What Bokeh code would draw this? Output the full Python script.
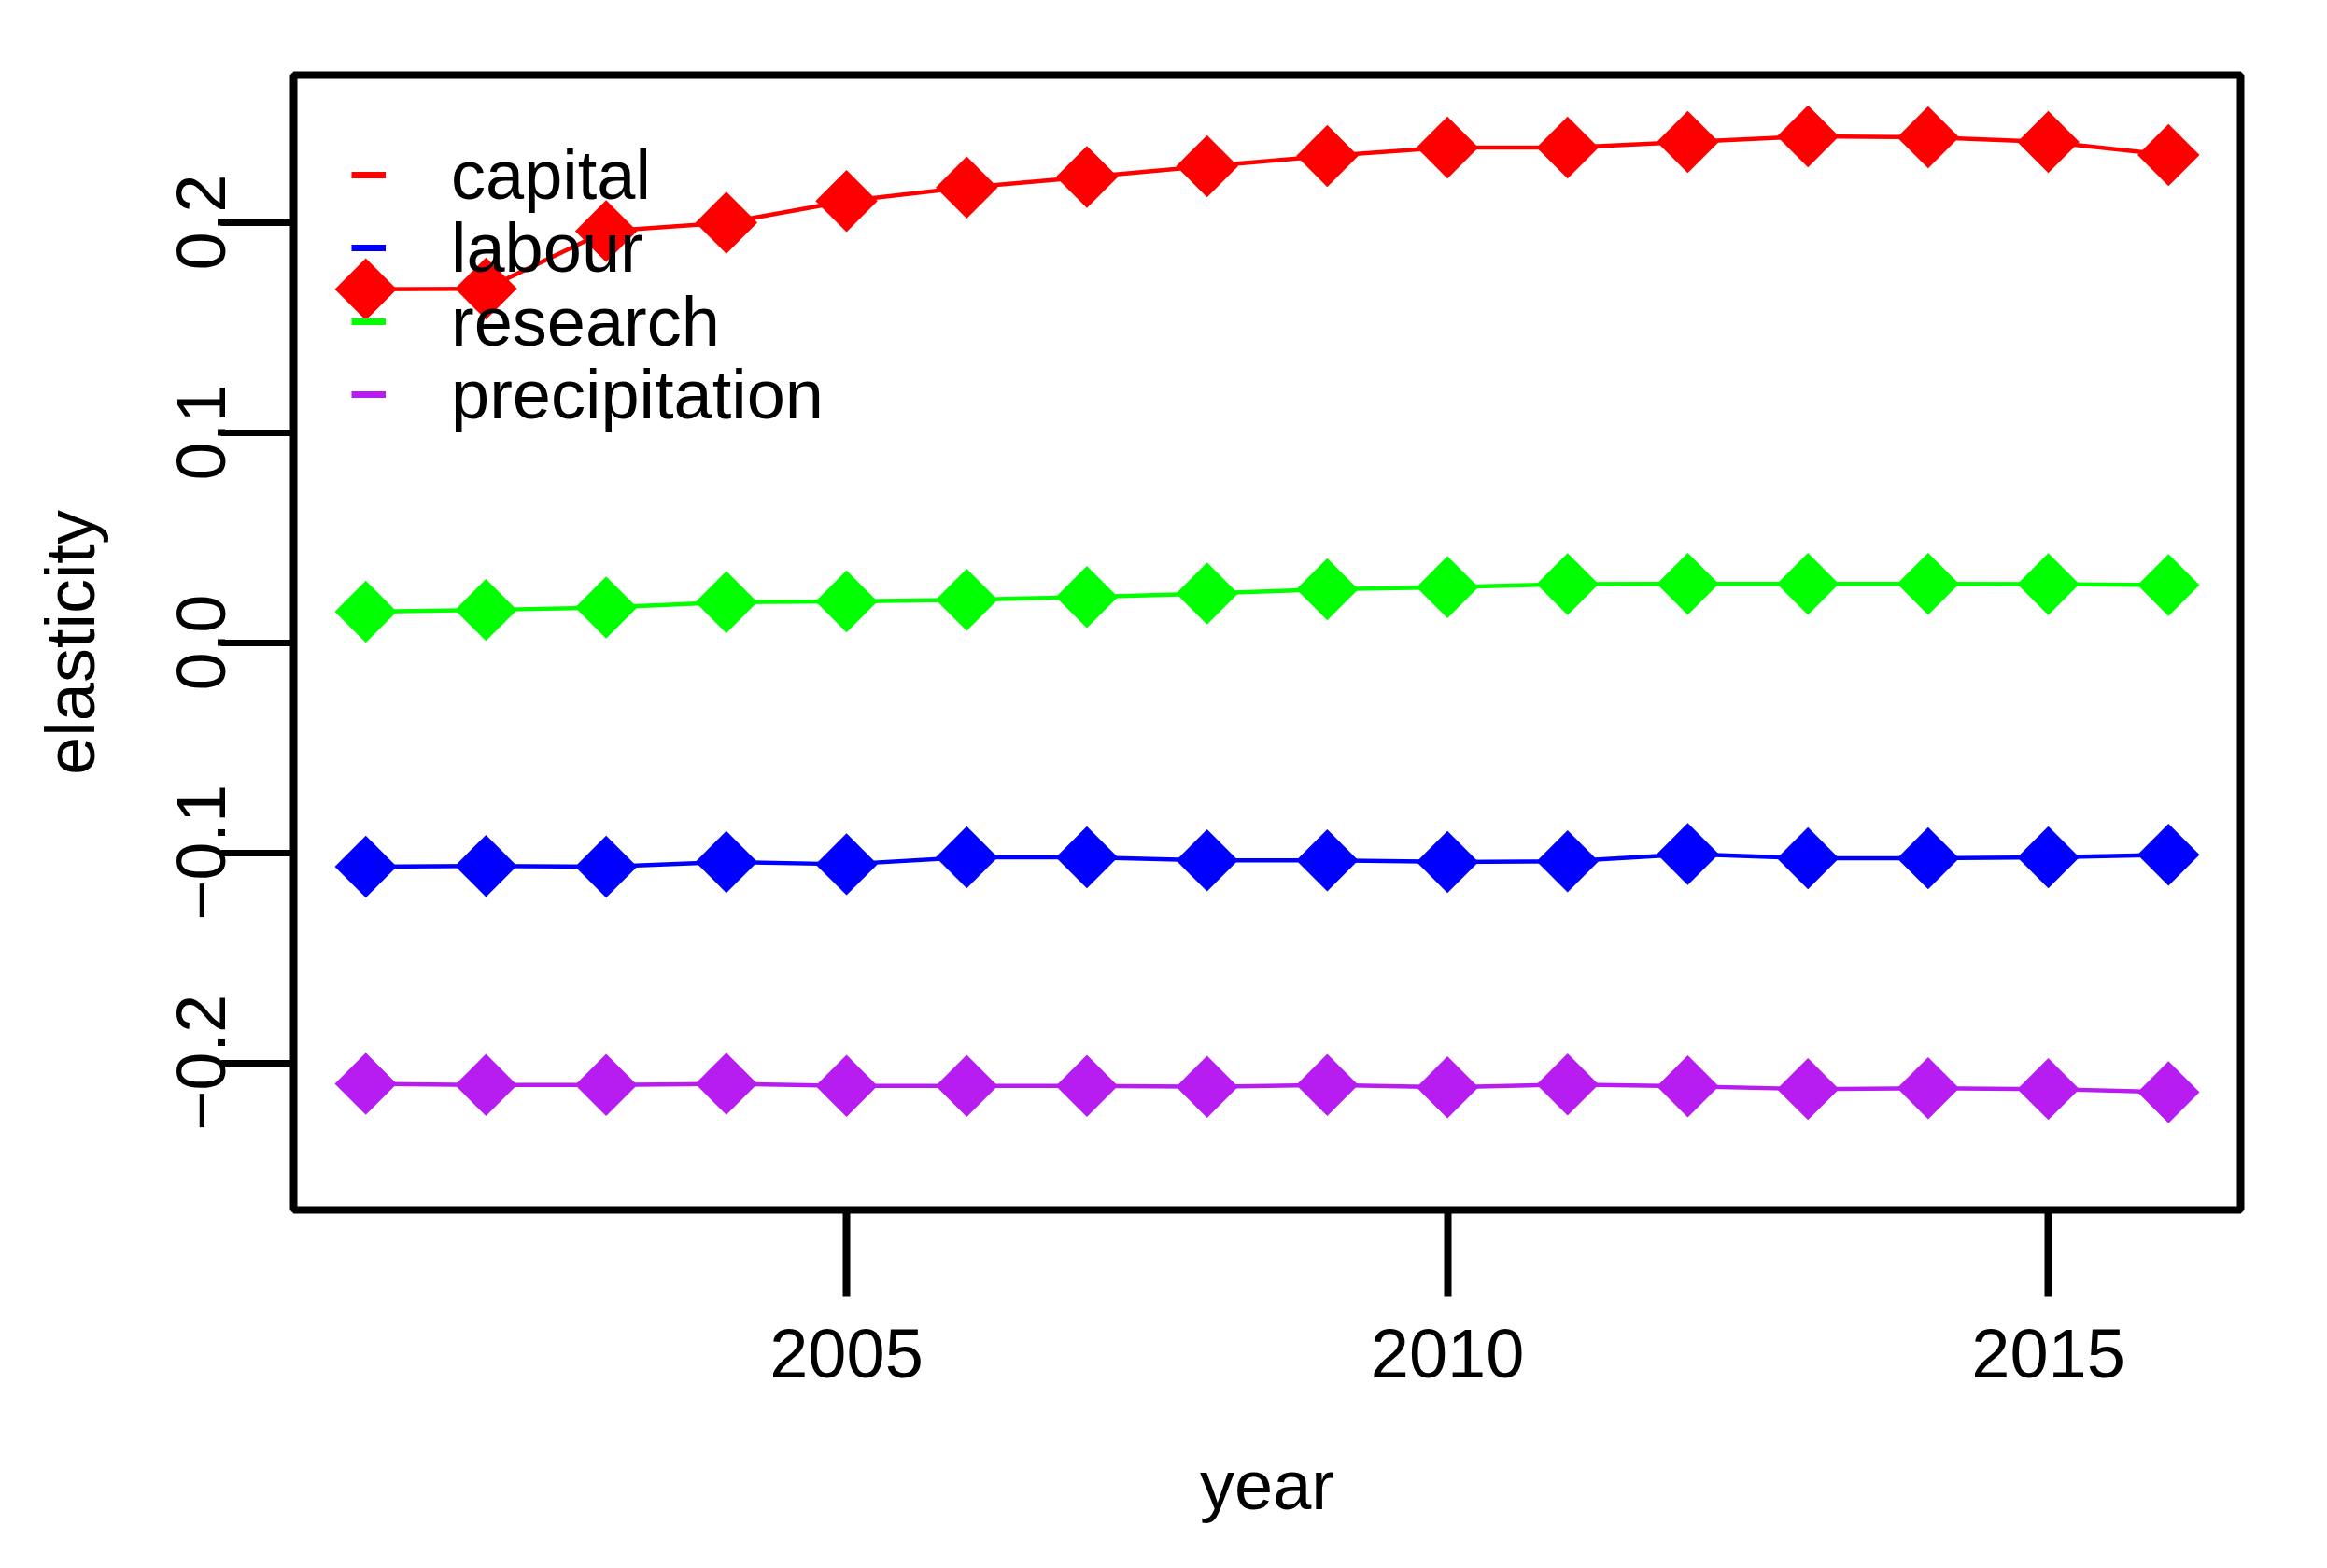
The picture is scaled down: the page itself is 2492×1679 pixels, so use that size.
from bokeh.plotting import figure
from bokeh.models import Range1d, FixedTicker, Legend, LegendItem
from bokeh.embed import file_html
from bokeh.resources import INLINE

# ---- data ----
years = list(range(2001, 2017))
capital = [0.1681, 0.1684, 0.1958, 0.1998, 0.2101, 0.2166, 0.2216, 0.2267,
           0.2316, 0.2356, 0.2356, 0.2382, 0.2409, 0.2404, 0.2382, 0.2320]
labour = [-0.1067, -0.1063, -0.1067, -0.1044, -0.1055, -0.1022, -0.1022, -0.1037,
          -0.1037, -0.1044, -0.1041, -0.1007, -0.1027, -0.1027, -0.1022, -0.1010]
research = [0.0147, 0.0155, 0.0167, 0.0192, 0.0196, 0.0203, 0.0217, 0.0233,
            0.0253, 0.0263, 0.0278, 0.0279, 0.0279, 0.0279, 0.0278, 0.0273]
precipitation = [-0.2100, -0.2106, -0.2106, -0.2100, -0.2110, -0.2110, -0.2110, -0.2114,
                 -0.2106, -0.2117, -0.2103, -0.2112, -0.2125, -0.2121, -0.2125, -0.2140]

series_names = ["capital", "labour", "research", "precipitation"]
series_colors = ["#FF0000", "#0000FF", "#00FF00", "#B71CF0"]
series_values = [capital, labour, research, precipitation]

x_ticks = [2005, 2010, 2015]
y_ticks = [-0.2, -0.1, 0.0, 0.1, 0.2]
y_tick_labels = ["\u22120.2", "\u22120.1", "0.0", "0.1", "0.2"]
x_title = "year"
y_title = "elasticity"

FONT = "Liberation Sans"
FS = "74px"

# layout (pixels)
FRAME_H = 1663 - 80 - 368
LEG_X = 62            # legend sample start, from frame left
LEG_ROW0 = 107        # first legend row centre, from frame top
LEG_PITCH = 78.4      # legend row pitch
LEG_ROW_H = 86

p = figure(width=2476, height=1663, output_backend="svg", toolbar_location=None,
           x_range=Range1d(2000.4, 2016.6), y_range=Range1d(-0.27, 0.27),
           min_border_left=314, min_border_right=77, min_border_top=80,
           min_border_bottom=368)
p.grid.visible = False
p.outline_line_color = "black"
p.outline_line_width = 8
p.background_fill_color = "white"
p.border_fill_color = "white"

for vals, col in zip(series_values, series_colors):
    p.line(years, vals, line_color=col, line_width=4.5)
    p.scatter(years, vals, marker="square", size=47, angle=0.7853981634,
              fill_color=col, line_color=col, line_width=0)

# x axis
xa = p.xaxis[0]
xa.ticker = FixedTicker(ticks=x_ticks)
xa.axis_line_color = None
xa.major_tick_in = 0
xa.major_tick_out = 93
xa.minor_tick_in = 0
xa.minor_tick_out = 0
xa.major_tick_line_width = 8
xa.major_tick_line_color = "black"
xa.major_label_text_font = FONT
xa.major_label_text_font_size = FS
xa.major_label_text_color = "black"
xa.major_label_standoff = 35
xa.axis_label = x_title
xa.axis_label_text_font = FONT
xa.axis_label_text_font_size = FS
xa.axis_label_text_font_style = "normal"
xa.axis_label_text_color = "black"
xa.axis_label_standoff = 71

# y axis
ya = p.yaxis[0]
ya.ticker = FixedTicker(ticks=y_ticks)
ya.major_label_overrides = {t: s for t, s in zip(y_ticks, y_tick_labels)}
ya.major_label_orientation = "vertical"
ya.axis_line_color = None
ya.major_tick_in = 0
ya.major_tick_out = 78
ya.minor_tick_in = 0
ya.minor_tick_out = 0
ya.major_tick_line_width = 7
ya.major_tick_line_color = "black"
ya.major_label_text_font = FONT
ya.major_label_text_font_size = FS
ya.major_label_text_color = "black"
ya.major_label_standoff = -4
ya.axis_label = y_title
ya.axis_label_text_font = FONT
ya.axis_label_text_font_size = FS
ya.axis_label_text_font_style = "normal"
ya.axis_label_text_color = "black"
ya.axis_label_standoff = 70

# legend (line segments only); its glyph renderers sit on an off-screen range,
# one single-row legend per series so that the row pitch can be tighter than the text box
p.extra_y_ranges = {"legend_only": Range1d(start=10, end=11)}
for i, (name, vals, col) in enumerate(zip(series_names, series_values, series_colors)):
    r = p.line(years, vals, line_color=col, line_width=7, y_range_name="legend_only")
    centre_from_top = LEG_ROW0 + i * LEG_PITCH
    bottom_from_bottom = FRAME_H - (centre_from_top + LEG_ROW_H / 2)
    leg = Legend(items=[LegendItem(label=name, renderers=[r])],
                 location=(LEG_X, int(round(bottom_from_bottom))),
                 margin=0, padding=0, spacing=0,
                 glyph_width=37, glyph_height=LEG_ROW_H, label_height=LEG_ROW_H,
                 label_standoff=70,
                 label_text_font=FONT, label_text_font_size=FS, label_text_color="black",
                 border_line_color=None, background_fill_alpha=0, level="underlay")
    p.add_layout(leg)

open("out.html", "w").write(file_html(p, INLINE))
